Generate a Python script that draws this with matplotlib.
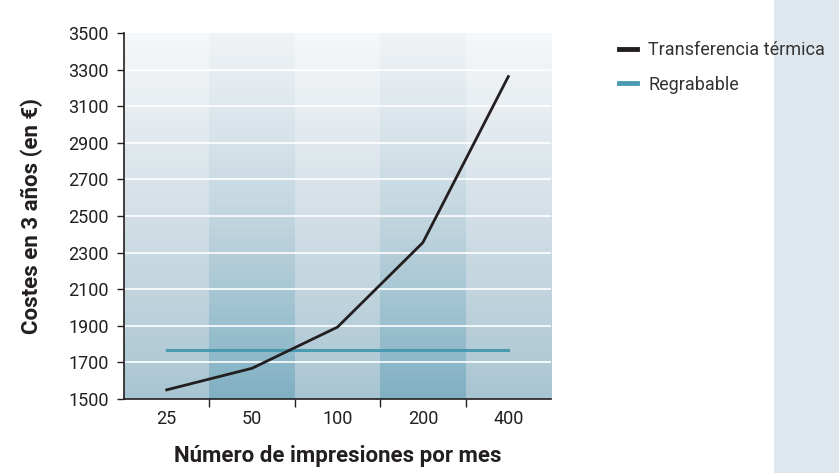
import numpy as np
import matplotlib.pyplot as plt
from matplotlib.lines import Line2D
from matplotlib.patches import Rectangle

# data
categories = ["25", "50", "100", "200", "400"]
transferencia = [1550, 1668, 1893, 2355, 3262]
regrabable = [1768, 1768, 1768, 1768, 1768]
yticks = [1500, 1700, 1900, 2100, 2300, 2500, 2700, 2900, 3100, 3300, 3500]

plt.rcParams['font.family'] = ['Roboto', 'DejaVu Sans']

fig = plt.figure(figsize=(8.39, 4.73), dpi=100)
fig.patches.append(Rectangle((774 / 839, 0), 65 / 839, 1, transform=fig.transFigure,
                             facecolor="#dfe7ee", edgecolor="none", zorder=-5))
ax = fig.add_axes([124 / 839, 74 / 473, 427 / 839, 366 / 473])
ax.set_facecolor("none")

# vertical gradient backgrounds, alternating light / dark bands
def grad(top, mid, bot, n=400):
    top, mid, bot = [np.array(plt.matplotlib.colors.to_rgb(c)) for c in (top, mid, bot)]
    t = np.linspace(0, 1, n)[:, None]
    up = top + (mid - top) * np.clip(t / 0.5, 0, 1)
    low = mid + (bot - mid) * np.clip((t - 0.5) / 0.5, 0, 1)
    return np.where(t < 0.5, up, low)[:, None, :]

light = grad("#f6f8fa", "#d3dfe6", "#a8c5d2")
dark = grad("#f1f4f7", "#c3d6df", "#80b0c3")
n = len(categories)
for i in range(n):
    ax.imshow(dark if i % 2 else light, extent=(i - 0.5, i + 0.5, 1500, 3500),
              aspect="auto", zorder=0, interpolation="nearest")

for y in yticks[1:-1]:
    ax.axhline(y, color="white", lw=1.2, zorder=1)

x = np.arange(n)
ax.plot(x, regrabable, color="#4a9bb0", lw=2.2, zorder=3)
ax.plot(x, transferencia, color="#231f20", lw=2.0, zorder=4)

ax.set_xlim(-0.5, n - 0.5)
ax.set_ylim(1500, 3500)
ax.set_yticks(yticks)
ax.set_yticklabels([str(v) for v in yticks], fontsize=13, color="#231f20")
ax.set_xticks(x)
ax.set_xticklabels(categories, fontsize=13, color="#231f20")
ax.set_xticks(np.arange(0.5, n - 1, 1), minor=True)
ax.tick_params(axis="x", which="major", length=0, pad=8)
ax.tick_params(axis="x", which="minor", length=6, width=1, color="#231f20")
ax.tick_params(axis="y", length=5, width=1, color="#231f20", pad=6)

for s in ["top", "right"]:
    ax.spines[s].set_visible(False)
for s in ["left", "bottom"]:
    ax.spines[s].set_color("#231f20")
    ax.spines[s].set_linewidth(1.2)

ax.set_xlabel("Número de impresiones por mes", fontsize=16, fontweight="bold",
              color="#231f20", labelpad=12)
ax.set_ylabel("Costes en 3 años (en €)", fontsize=16, fontweight="bold",
              color="#231f20", labelpad=18)

handles = [Line2D([], [], color="#231f20", lw=3.5),
           Line2D([], [], color="#4a9bb0", lw=3.5)]
fig.legend(handles, ["Transferencia térmica", "Regrabable"], loc="upper left",
           bbox_to_anchor=(603 / 839, 1 - 25 / 473), frameon=False,
           prop={"size": 13},
           handlelength=1.0, handletextpad=0.6, labelspacing=0.9, labelcolor="#333333")

fig.savefig("out.png", dpi=100)
